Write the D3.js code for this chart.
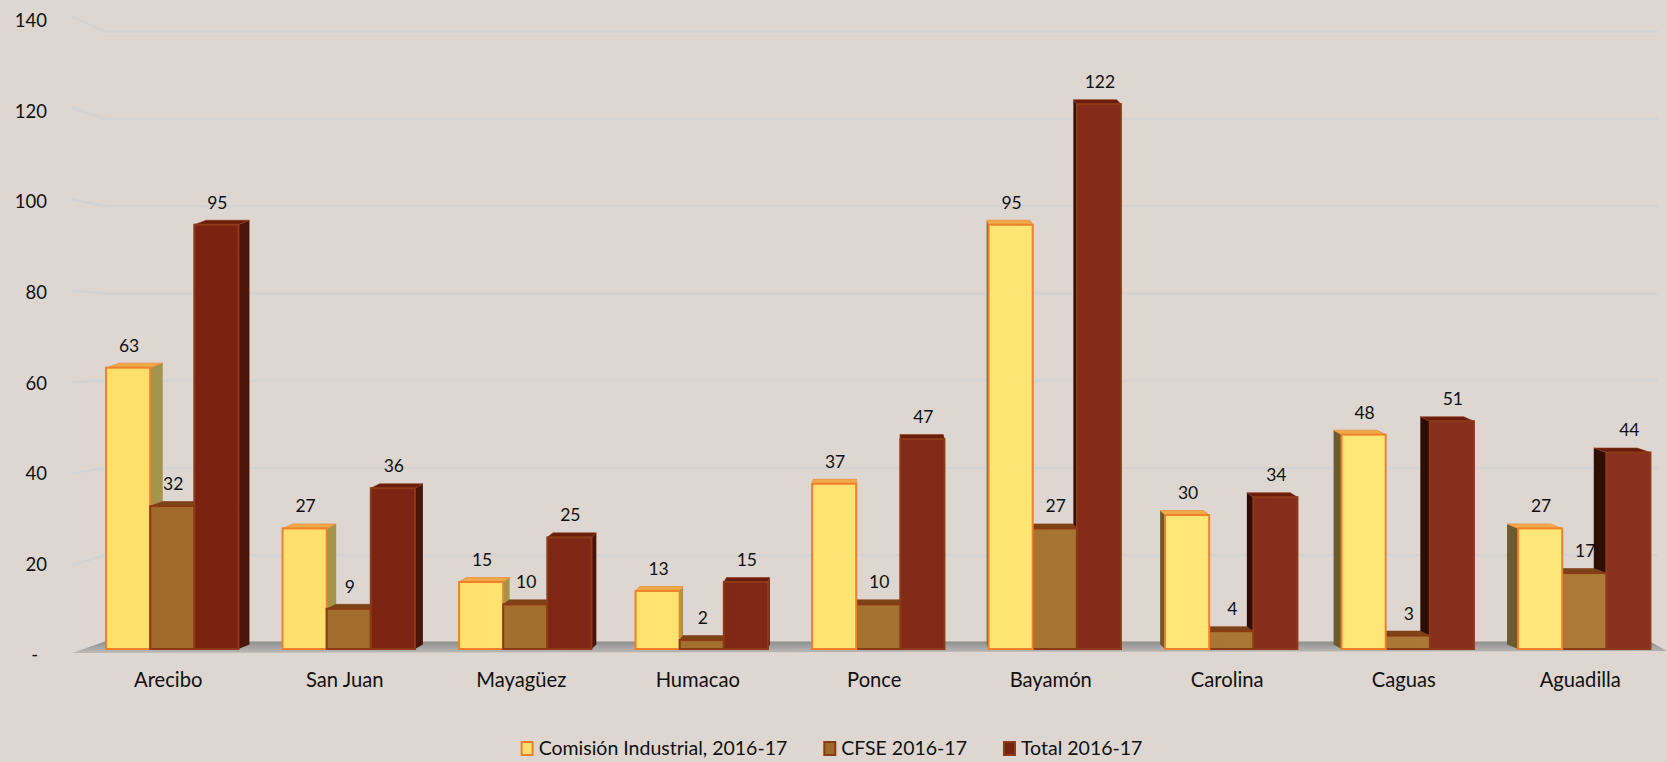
<!DOCTYPE html>
<html>
<head>
<meta charset="utf-8">
<script src="https://cdnjs.cloudflare.com/ajax/libs/d3/7.8.5/d3.min.js"></script>
<style>
  body { margin: 0; background: #ddd6d1; }
  svg { display: block; font-family: Lato, "Open Sans", sans-serif; }
</style>
</head>
<body>
<div id="chart"></div>
<script>
let categories = ['Arecibo', 'San Juan', 'Mayagüez', 'Humacao', 'Ponce', 'Bayamón', 'Carolina', 'Caguas', 'Aguadilla'];
let comisionValues = [63, 27, 15, 13, 37, 95, 30, 48, 27];
let cfseValues = [32, 9, 10, 2, 10, 27, 4, 3, 17];
let totalValues = [95, 36, 25, 15, 47, 122, 34, 51, 44];
let seriesNames = ['Comisión Industrial, 2016-17', 'CFSE 2016-17', 'Total 2016-17'];
let yTicks = [0, 20, 40, 60, 80, 100, 120, 140];

let width = 1667,
    height = 762,
    vanishX = 878,
    depthK = 0.0172,
    depthY = -4.5;

let seriesStyle = [
    {front: ['#ffdf6c', '#ffe97a'], stroke: '#f0802a', right: '#a39449', left: '#6b5b2e', top: '#eeaa48'},
    {front: ['#9f6a2a', '#ad7a38'], stroke: '#8a3a14', right: '#7a4a1c', left: '#5a3410', top: '#7a4418'},
    {front: ['#7a2210', '#8a301e'], stroke: '#8e3a18', right: '#4c150a', left: '#2e0d05', top: '#6a1d0c'}
];

let series = seriesNames.map((name, i) => ({
    name: name,
    index: i,
    values: [comisionValues, cfseValues, totalValues][i]
}));

let svg = d3.select('#chart').append('svg')
    .attr('width', width)
    .attr('height', height);

svg.append('rect')
    .attr('width', width)
    .attr('height', height)
    .attr('fill', '#ddd6d1');

let defs = svg.append('defs');

seriesStyle.forEach((s, i) => {
    let g = defs.append('linearGradient')
        .attr('id', 'front' + i)
        .attr('gradientUnits', 'userSpaceOnUse')
        .attr('x1', 100).attr('x2', 1660).attr('y1', 0).attr('y2', 0);
    g.append('stop').attr('offset', 0).attr('stop-color', s.front[0]);
    g.append('stop').attr('offset', 1).attr('stop-color', s.front[1]);
});

let floorGrad = defs.append('linearGradient')
    .attr('id', 'floorGrad')
    .attr('x1', 0).attr('x2', 0).attr('y1', 0).attr('y2', 1);
floorGrad.append('stop').attr('offset', 0).attr('stop-color', '#8e8e8e');
floorGrad.append('stop').attr('offset', 1).attr('stop-color', '#bdbab7');

let xScale = d3.scaleBand()
    .domain(categories)
    .range([84, 84 + 9 * 176.5])
    .paddingInner(0.25)
    .paddingOuter(0.125);

let xSub = d3.scaleBand()
    .domain(series.map(d => d.index))
    .range([0, xScale.bandwidth()]);

// front plane of the bars
let yScale = d3.scaleLinear()
    .domain([0, 140])
    .range([649, 649 - 140 * 4.466]);

// back wall (gridlines)
let yWall = d3.scaleLinear()
    .domain([0, 140])
    .range([642.5, 31.7]);

// tick labels
let yLabel = d3.scaleLinear()
    .domain([0, 140])
    .range([655, 20.7]);

// gridlines with the bent left wall part
let grid_g = svg.append('g').attr('class', 'grid_g');
grid_g.selectAll('polyline')
    .data(yTicks.filter(d => d > 0))
    .enter().append('polyline')
    .attr('points', d => {
        let yy = yWall(d);
        let yl = yy - 0.048 * (353 - yy);
        return `72,${yl} 105,${yy} 1658,${yy}`;
    })
    .attr('fill', 'none')
    .attr('stroke', '#d3d3d3')
    .attr('stroke-width', 2.5);

// floor
svg.append('polygon')
    .attr('points', `72,653 105,${yWall(0) - 1} 1650,${yWall(0) - 1} 1667,651`)
    .attr('fill', 'url(#floorGrad)');

// y axis labels
let yAxis = d3.axisLeft(yLabel)
    .tickValues(yTicks)
    .tickSize(0)
    .tickFormat(d => d === 0 ? '-' : d);

let yAxis_g = svg.append('g')
    .attr('transform', 'translate(47,0)')
    .call(yAxis);
yAxis_g.select('.domain').remove();
yAxis_g.selectAll('text')
    .attr('x', d => d === 0 ? -9 : 0)
    .attr('font-family', 'Lato, sans-serif')
    .attr('font-size', 18.5)
    .attr('fill', '#111');

// bars
let bar_g = svg.append('g').attr('class', 'bar_g');

categories.forEach((cat, ci) => {
    let group = bar_g.append('g').attr('class', 'group');
    let bars = series.map(s => {
        let x0 = xScale(cat) + xSub(s.index),
            x1 = x0 + xSub.bandwidth(),
            yt = yScale(s.values[ci]),
            yb = yScale(0);
        return {s: s, v: s.values[ci], x0: x0, x1: x1, yt: yt, yb: yb,
            dx0: depthK * (vanishX - x0), dx1: depthK * (vanishX - x1)};
    });
    let groupCenter = xScale(cat) + xScale.bandwidth() / 2;
    // left of the vanishing point: paint left to right, otherwise right to left
    let order = groupCenter < vanishX ? bars : bars.slice().reverse();

    order.forEach(b => {
        let st = seriesStyle[b.s.index];
        let g = group.append('g');
        if (b.dx1 > 0) {
            g.append('polygon')
                .attr('points', [[b.x1, b.yt], [b.x1 + b.dx1, b.yt + depthY], [b.x1 + b.dx1, b.yb + depthY], [b.x1, b.yb]].join(' '))
                .attr('fill', st.right);
        }
        if (b.dx0 < 0) {
            g.append('polygon')
                .attr('points', [[b.x0, b.yt], [b.x0 + b.dx0, b.yt + depthY], [b.x0 + b.dx0, b.yb + depthY], [b.x0, b.yb]].join(' '))
                .attr('fill', st.left);
        }
        g.append('polygon')
            .attr('points', [[b.x0, b.yt], [b.x0 + b.dx0, b.yt + depthY], [b.x1 + b.dx1, b.yt + depthY], [b.x1, b.yt]].join(' '))
            .attr('fill', st.top)
            .attr('stroke', st.stroke)
            .attr('stroke-width', 1)
            .attr('stroke-opacity', 0.6);
        g.append('rect')
            .attr('x', b.x0)
            .attr('y', b.yt)
            .attr('width', b.x1 - b.x0)
            .attr('height', b.yb - b.yt)
            .attr('fill', `url(#front${b.s.index})`)
            .attr('stroke', st.stroke)
            .attr('stroke-width', 2);
    });

    group.selectAll('text.value')
        .data(bars)
        .enter().append('text')
        .attr('class', 'value')
        .attr('x', d => (d.x0 + d.x1) / 2 + 1)
        .attr('y', d => d.yt - 16)
        .attr('text-anchor', 'middle')
        .attr('font-size', 17.5)
        .attr('fill', '#111')
        .text(d => d.v);
});

// category labels
let xAxis = d3.axisBottom(xScale).tickSize(0);
let xAxis_g = svg.append('g')
    .attr('transform', 'translate(-4,670)')
    .call(xAxis);
xAxis_g.select('.domain').remove();
xAxis_g.selectAll('text')
    .attr('font-family', 'Lato, sans-serif')
    .attr('font-size', 20.2)
    .attr('fill', '#111');

// legend
let legend_g = svg.append('g').attr('class', 'legend_g');
let legendX = 0;
series.forEach(s => {
    let item = legend_g.append('g');
    let st = seriesStyle[s.index];
    item.append('rect')
        .attr('x', 1)
        .attr('y', 742)
        .attr('width', 11)
        .attr('height', 13)
        .attr('fill', st.front[0])
        .attr('stroke', st.stroke)
        .attr('stroke-width', 2);
    let t = item.append('text')
        .attr('x', 18)
        .attr('y', 755)
        .attr('font-size', 19.5)
        .attr('fill', '#111')
        .text(s.name);
    let w = 18 + t.node().getComputedTextLength();
    item.attr('transform', `translate(${legendX},0)`);
    legendX += w + 36;
});
let legendWidth = legendX - 36;
legend_g.attr('transform', `translate(${831.5 - legendWidth / 2},0)`);
</script>
</body>
</html>
